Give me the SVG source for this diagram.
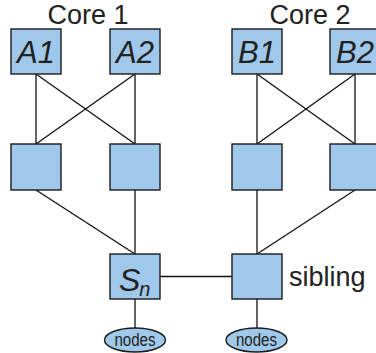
<svg xmlns="http://www.w3.org/2000/svg" width="376" height="353" viewBox="0 0 376 353">
  <style>
    .box { fill: #9fc8ea; stroke: #1a1a1a; stroke-width: 1.4; }
    .leaf { fill: #9fc8ea; stroke: #1a1a1a; stroke-width: 1.4; }
    .wire { stroke: #111; stroke-width: 1.3; fill: none; }
    .title { font-family: "Liberation Sans", Arial, sans-serif; font-size: 27px; fill: #222; }
    .name { font-family: "Liberation Sans", Arial, sans-serif; font-style: italic; font-size: 31px; fill: #222; text-anchor: middle; }
    .small { font-family: "Liberation Sans", Arial, sans-serif; font-size: 18px; fill: #222; }
  </style>
  <rect width="376" height="353" fill="#ffffff"/>

  <!-- core labels -->
  <text class="title" x="88" y="24" text-anchor="middle">Core 1</text>
  <text class="title" x="310" y="24" text-anchor="middle">Core 2</text>

  <!-- links -->
  <g id="connectors">
    <line class="wire" x1="36" y1="74" x2="36" y2="144"/>
    <line class="wire" x1="36" y1="74" x2="135" y2="144"/>
    <line class="wire" x1="135" y1="74" x2="36" y2="144"/>
    <line class="wire" x1="135" y1="74" x2="135" y2="144"/>
    <line class="wire" x1="257" y1="74" x2="257" y2="144"/>
    <line class="wire" x1="257" y1="74" x2="355" y2="144"/>
    <line class="wire" x1="355" y1="74" x2="257" y2="144"/>
    <line class="wire" x1="355" y1="74" x2="355" y2="144"/>
    <line class="wire" x1="36" y1="190" x2="135" y2="254"/>
    <line class="wire" x1="135" y1="190" x2="135" y2="254"/>
    <line class="wire" x1="257" y1="190" x2="257" y2="254"/>
    <line class="wire" x1="355" y1="190" x2="257" y2="254"/>
    <line class="wire" x1="160" y1="276.5" x2="232" y2="276.5"/>
    <line class="wire" x1="135" y1="299" x2="135" y2="328"/>
    <line class="wire" x1="257" y1="299" x2="257" y2="328"/>
  </g>

  <!-- core switches -->
  <g id="A1">
    <rect class="box" x="11" y="29" width="50" height="45"/>
    <text class="name" x="36" y="63">A1</text>
  </g>
  <g id="A2">
    <rect class="box" x="110" y="29" width="50" height="45"/>
    <text class="name" x="135" y="63">A2</text>
  </g>
  <g id="B1">
    <rect class="box" x="232" y="29" width="50" height="45"/>
    <text class="name" x="257" y="63">B1</text>
  </g>
  <g id="B2">
    <rect class="box" x="330" y="29" width="50" height="45"/>
    <text class="name" x="355" y="63">B2</text>
  </g>

  <!-- aggregation switches -->
  <g id="agg1"><rect class="box" x="11" y="144" width="50" height="46"/></g>
  <g id="agg2"><rect class="box" x="110" y="144" width="50" height="46"/></g>
  <g id="agg3"><rect class="box" x="232" y="144" width="50" height="46"/></g>
  <g id="agg4"><rect class="box" x="330" y="144" width="50" height="46"/></g>

  <!-- edge switches -->
  <g id="Sn">
    <rect class="box" x="110" y="254" width="50" height="45"/>
    <text font-family="Liberation Sans, Arial, sans-serif" font-style="italic" fill="#222" x="119" y="291"><tspan font-size="32">S</tspan><tspan font-size="20" dx="-1" dy="5">n</tspan></text>
  </g>
  <g id="sibling">
    <rect class="box" x="232" y="254" width="50" height="45"/>
    <text class="title" x="289" y="286">sibling</text>
  </g>

  <!-- attached hosts -->
  <g id="nodes1">
    <ellipse class="leaf" cx="135" cy="340" rx="30.5" ry="12"/>
    <text class="small" x="114.5" y="346" textLength="41" lengthAdjust="spacingAndGlyphs">nodes</text>
  </g>
  <g id="nodes2">
    <ellipse class="leaf" cx="256.5" cy="340" rx="30.5" ry="12"/>
    <text class="small" x="236" y="346" textLength="41" lengthAdjust="spacingAndGlyphs">nodes</text>
  </g>
</svg>
